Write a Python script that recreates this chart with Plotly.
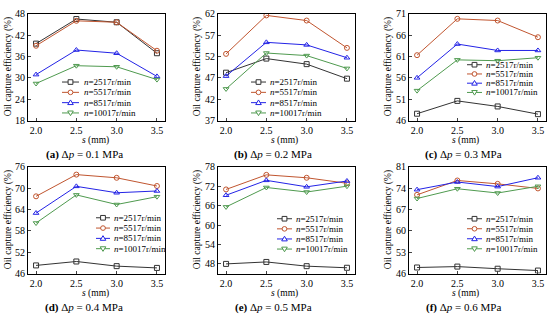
import plotly.graph_objects as go

W, H = 550, 321
FONT = "Liberation Serif"

s_vals = [2.0, 2.5, 3.0, 3.5]
x_ticktext = ["2.0", "2.5", "3.0", "3.5"]
series_names = ["2517", "5517", "8517", "10017"]
series_colors = ["#333333", "#C0552F", "#2323E6", "#4F9A4F"]
series_symbols = ["square-open", "circle-open", "triangle-up-open", "triangle-down-open"]

panel_labels = ["(a)", "(b)", "(c)", "(d)", "(e)", "(f)"]
panel_dp = ["0.1", "0.2", "0.3", "0.4", "0.5", "0.6"]

# efficiency (%) per panel, per speed n = 2517, 5517, 8517, 10017 r/min
eff_a = [[39.6, 46.5, 45.6, 36.9], [39.0, 46.0, 45.6, 37.6], [30.9, 37.8, 36.9, 30.4], [28.4, 33.4, 33.1, 29.5]]
eff_b = [[48.2, 51.5, 50.2, 46.8], [52.6, 61.6, 60.4, 54.0], [47.4, 55.3, 54.7, 51.7], [44.4, 52.8, 52.2, 49.2]]
eff_c = [[47.6, 50.6, 49.3, 47.5], [61.3, 69.8, 69.4, 65.5], [56.0, 63.9, 62.4, 62.4], [53.0, 60.2, 60.0, 60.7]]
eff_d = [[48.3, 49.4, 48.1, 47.6], [67.7, 73.8, 72.9, 70.6], [63.0, 70.5, 68.7, 69.2], [60.2, 68.1, 65.4, 67.6]]
eff_e = [[48.0, 48.6, 47.3, 46.8], [71.0, 75.5, 74.6, 72.9], [69.2, 73.8, 71.8, 73.6], [65.6, 71.6, 70.2, 72.0]]
eff_f = [[48.0, 48.3, 47.6, 47.0], [71.8, 76.5, 75.4, 73.9], [73.5, 76.0, 74.5, 77.4], [70.6, 73.8, 72.4, 74.6]]
panel_data = [eff_a, eff_b, eff_c, eff_d, eff_e, eff_f]

y_ticks_a = [18, 24, 30, 36, 42, 48]
y_ticks_b = [37, 42, 47, 52, 57, 62]
y_ticks_c = [46, 51, 56, 61, 66, 71]
y_ticks_d = [46, 52, 58, 64, 70, 76]
y_ticks_e = [48, 54, 60, 66, 72, 78]
y_ticks_f = [46, 53, 60, 67, 74, 81]
panel_yticks = [y_ticks_a, y_ticks_b, y_ticks_c, y_ticks_d, y_ticks_e, y_ticks_f]
panel_yranges = [[18, 48], [37, 62], [46, 71], [46, 76], [45, 78], [46, 81]]

# layout (pixels)
col_left = [28, 218, 409]
row_top = [8, 167]
pw, ph = 137, 111
legend_pos = [  # line x0, line x1, text x, first row y, row step
    (62, 79, 82, 79, 10.7),
    (251, 266, 268, 79, 10.7),
    (467, 482, 484, 61, 9.6),
    (96, 110, 112, 220, 10.7),
    (277, 292, 294, 221, 10.5),
    (467, 482, 484, 221, 10.4),
]
ytitle_x = [8, 197, 388]
xtitle_x = [95, 284, 465]
caption_x = [84, 273, 463]


def px(x):
    return x / W


def py(y):
    return 1 - y / H


fig = go.Figure()
layout = dict(
    width=W, height=H, margin=dict(l=0, r=0, t=0, b=0),
    paper_bgcolor="white", plot_bgcolor="white", showlegend=False,
    font=dict(family=FONT, color="black", size=10),
)
annotations = []
shapes = []

for i in range(6):
    r, c = divmod(i, 3)
    x0, y0 = col_left[c], row_top[r]
    idx = "" if i == 0 else str(i + 1)
    xa, ya = "x" + idx, "y" + idx
    layout["xaxis" + idx] = dict(
        domain=[px(x0), px(x0 + pw)], anchor=ya, range=[1.9, 3.6],
        tickvals=s_vals, ticktext=x_ticktext, ticks="inside", ticklen=3,
        showline=True, linecolor="black", linewidth=1, mirror=True,
        showgrid=False, zeroline=False, tickfont=dict(size=10, family=FONT),
    )
    layout["yaxis" + idx] = dict(
        domain=[py(y0 + ph), py(y0)], anchor=xa, range=panel_yranges[i],
        tickvals=panel_yticks[i], ticks="inside", ticklen=3,
        showline=True, linecolor="black", linewidth=1, mirror=True,
        showgrid=False, zeroline=False, tickfont=dict(size=10, family=FONT),
    )
    for k in range(4):
        fig.add_trace(go.Scatter(
            x=s_vals, y=panel_data[i][k], xaxis=xa, yaxis=ya, mode="lines+markers",
            line=dict(color=series_colors[k], width=1),
            marker=dict(symbol=series_symbols[k], size=5, color=series_colors[k],
                        line=dict(width=1, color=series_colors[k])),
            name="n=" + series_names[k] + "r/min",
        ))
    # y title
    annotations.append(dict(
        x=px(ytitle_x[c]), y=py(y0 + ph / 2), xref="paper", yref="paper",
        text="Oil capture efficiency (%)", textangle=-90, showarrow=False,
        font=dict(size=9.5, family=FONT), xanchor="center", yanchor="middle",
    ))
    # x title
    annotations.append(dict(
        x=px(xtitle_x[c]), y=py(y0 + ph + 20.5), xref="paper", yref="paper",
        text="<i>s</i> (mm)", showarrow=False, font=dict(size=9.5, family=FONT),
        xanchor="center", yanchor="middle",
    ))
    # caption
    annotations.append(dict(
        x=px(caption_x[c]), y=py(y0 + ph + 35.5), xref="paper", yref="paper",
        text="<b>" + panel_labels[i] + "</b> Δ<i>p</i> = " + panel_dp[i] + " MPa",
        showarrow=False, font=dict(size=11, family=FONT),
        xanchor="center", yanchor="middle",
    ))
    # manual legend
    lx0, lx1, tx, ly, dy = legend_pos[i]
    for k in range(4):
        yy = ly + k * dy
        col = series_colors[k]
        shapes.append(dict(type="line", xref="paper", yref="paper",
                           x0=px(lx0), x1=px(lx1), y0=py(yy), y1=py(yy),
                           line=dict(color=col, width=1)))
        mx = (lx0 + lx1) / 2
        m = 2.4
        if k == 0:
            shapes.append(dict(type="rect", xref="paper", yref="paper",
                               x0=px(mx - m), x1=px(mx + m), y0=py(yy + m), y1=py(yy - m),
                               line=dict(color=col, width=1), fillcolor="white"))
        elif k == 1:
            shapes.append(dict(type="circle", xref="paper", yref="paper",
                               x0=px(mx - m), x1=px(mx + m), y0=py(yy + m), y1=py(yy - m),
                               line=dict(color=col, width=1), fillcolor="white"))
        elif k == 2:
            path = "M {},{} L {},{} L {},{} Z".format(
                px(mx), py(yy - m - 0.4), px(mx - m - 0.4), py(yy + m - 0.4),
                px(mx + m + 0.4), py(yy + m - 0.4))
            shapes.append(dict(type="path", xref="paper", yref="paper", path=path,
                               line=dict(color=col, width=1), fillcolor="white"))
        else:
            path = "M {},{} L {},{} L {},{} Z".format(
                px(mx), py(yy + m + 0.4), px(mx - m - 0.4), py(yy - m + 0.4),
                px(mx + m + 0.4), py(yy - m + 0.4))
            shapes.append(dict(type="path", xref="paper", yref="paper", path=path,
                               line=dict(color=col, width=1), fillcolor="white"))
        annotations.append(dict(
            x=px(tx), y=py(yy), xref="paper", yref="paper",
            text="<i>n</i>=" + series_names[k] + "r/min", showarrow=False,
            font=dict(size=9, family=FONT), xanchor="left", yanchor="middle",
        ))

layout["annotations"] = annotations
layout["shapes"] = shapes
fig.update_layout(**layout)
fig.write_html("out.html", config={"displayModeBar": False},
               post_script="document.body.style.margin='0';document.body.style.overflow='hidden';")
